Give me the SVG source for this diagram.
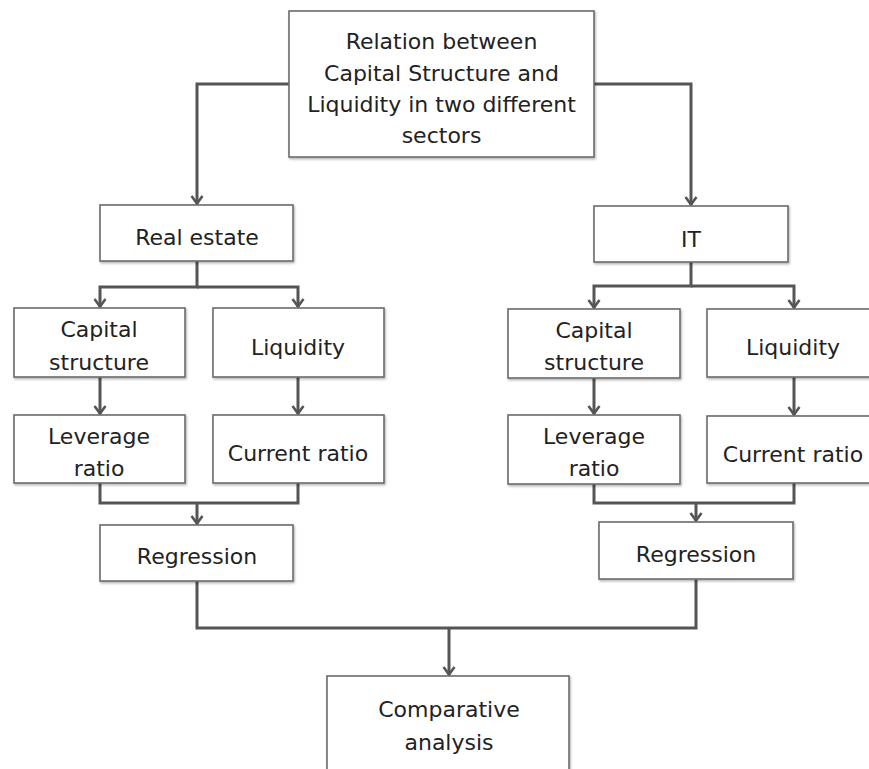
<svg xmlns="http://www.w3.org/2000/svg" width="869" height="769" viewBox="0 0 869 769">
<style>
.box{fill:#fff;stroke:#6b6b6b;stroke-width:1.6;filter:url(#sh)}
.t{font-family:"DejaVu Sans","Liberation Sans",sans-serif;font-size:22px;fill:#222;text-anchor:middle}
.c{fill:none;stroke:#555;stroke-width:3;stroke-linejoin:miter}
.a{marker-end:url(#arr)}
</style>
<defs>
<filter id="sh" x="-10%" y="-10%" width="120%" height="130%">
<feDropShadow dx="1" dy="1.5" stdDeviation="1.2" flood-color="#000" flood-opacity="0.3"/>
</filter>
<marker id="arr" markerUnits="userSpaceOnUse" markerWidth="14" markerHeight="16" viewBox="-10 -8 12 16" refX="0" refY="0" orient="auto">
<path d="M-8,-5.5 L-0.5,0 L-8,5.5" fill="none" stroke="#555" stroke-width="2.6"/>
</marker>
</defs>
<rect width="869" height="769" fill="#fff"/>
<g id="connectors">
<path class="c a" d="M289,84 H197 V204"/>
<path class="c a" d="M594,84 H691 V205"/>
<path class="c a" d="M197,261 V287 H100 V307"/>
<path class="c a" d="M197,287 H298 V307"/>
<path class="c a" d="M691,262 V286 H594 V308"/>
<path class="c a" d="M691,286 H794 V308"/>
<path class="c a" d="M100,377 V414"/>
<path class="c a" d="M298,377 V414"/>
<path class="c a" d="M594,378 V414"/>
<path class="c a" d="M794,377 V415"/>
<path class="c" d="M100,483 V503 H298 V483"/>
<path class="c a" d="M197,503 V524"/>
<path class="c" d="M594,484 V503 H794 V483"/>
<path class="c a" d="M696,503 V521"/>
<path class="c" d="M197,581 V628 H696 V579"/>
<path class="c a" d="M449,628 V675"/>
</g>
<g id="top"><rect class="box" x="289" y="11" width="305" height="146"/>
<text class="t" x="441.5" y="49">Relation between</text>
<text class="t" x="441.5" y="81">Capital Structure and</text>
<text class="t" x="441.5" y="112">Liquidity in two different</text>
<text class="t" x="441.5" y="143">sectors</text></g>
<g id="realestate"><rect class="box" x="100" y="205" width="193" height="56"/><text class="t" x="197" y="245">Real estate</text></g>
<g id="it"><rect class="box" x="594" y="206" width="194" height="56"/><text class="t" x="691" y="247">IT</text></g>
<g id="l-capital"><rect class="box" x="14" y="308" width="171" height="69"/><text class="t" x="99" y="337">Capital</text><text class="t" x="99" y="370">structure</text></g>
<g id="l-liquidity"><rect class="box" x="213" y="308" width="171" height="69"/><text class="t" x="298" y="355">Liquidity</text></g>
<g id="l-leverage"><rect class="box" x="14" y="415" width="171" height="68"/><text class="t" x="99" y="444">Leverage</text><text class="t" x="99" y="476">ratio</text></g>
<g id="l-current"><rect class="box" x="213" y="415" width="171" height="68"/><text class="t" x="298" y="461">Current ratio</text></g>
<g id="l-regression"><rect class="box" x="100" y="525" width="193" height="56"/><text class="t" x="197" y="564">Regression</text></g>
<g id="r-capital"><rect class="box" x="508" y="309" width="172" height="69"/><text class="t" x="594" y="338">Capital</text><text class="t" x="594" y="370">structure</text></g>
<g id="r-liquidity"><rect class="box" x="707" y="309" width="176" height="68"/><text class="t" x="793" y="355">Liquidity</text></g>
<g id="r-leverage"><rect class="box" x="508" y="415" width="172" height="69"/><text class="t" x="594" y="444">Leverage</text><text class="t" x="594" y="476">ratio</text></g>
<g id="r-current"><rect class="box" x="707" y="416" width="176" height="67"/><text class="t" x="793" y="462">Current ratio</text></g>
<g id="r-regression"><rect class="box" x="599" y="522" width="194" height="57"/><text class="t" x="696" y="562">Regression</text></g>
<g id="comparative"><rect class="box" x="327" y="676" width="242" height="110"/><text class="t" x="449" y="717">Comparative</text><text class="t" x="449" y="750">analysis</text></g>
</svg>
